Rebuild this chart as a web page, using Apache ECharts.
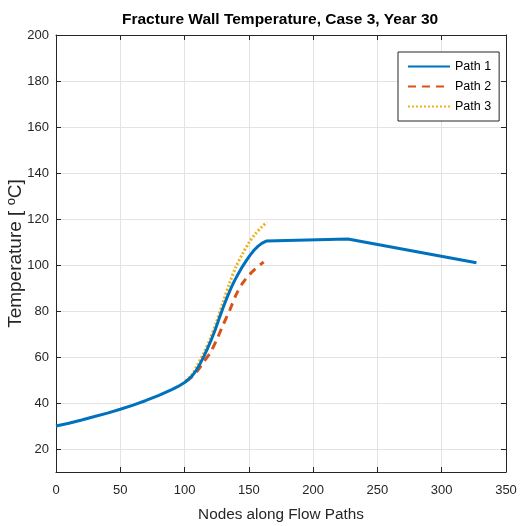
<!DOCTYPE html>
<html>
<head>
<meta charset="utf-8">
<script src="https://cdn.jsdelivr.net/npm/echarts@6/dist/echarts.min.js"></script>
<style>html,body{margin:0;padding:0;background:#fff}#c{width:525px;height:526px}</style>
</head>
<body>
<div id="c"></div>
<script>
const titleText = 'Fracture Wall Temperature, Case 3, Year 30';
const xName = 'Nodes along Flow Paths';
const yName = 'Temperature [ {sup|o}C]';
const seriesNames = ['Path 1', 'Path 2', 'Path 3'];
const xTicks = [0, 50, 100, 150, 200, 250, 300, 350];
const yTicks = [20, 40, 60, 80, 100, 120, 140, 160, 180, 200];

const path1X = [0, 10, 20, 30, 40, 50, 60, 70, 80, 90, 95, 100, 103, 106, 109, 112, 115, 118, 121, 124, 127, 130, 133, 136, 139, 142, 145, 148, 151, 154, 157, 160, 163.5, 165, 227, 327];
const path1Y = [30, 31.2, 32.6, 34.1, 35.6, 37.3, 39.1, 41.1, 43.3, 45.8, 47.2, 48.9, 50.2, 51.9, 54.1, 57, 60.3, 63.9, 67.8, 72.1, 76.9, 81.5, 85.8, 89.8, 93.3, 96.4, 99.3, 101.9, 104.3, 106.4, 108.1, 109.4, 110.4, 109.6, 111.3, 101];

const path2X = [101, 105, 110, 115, 120, 125, 130, 135, 140, 145, 150, 155, 161.5];
const path2Y = [49.5, 51, 54, 58, 61.8, 67.5, 74, 80.2, 87, 92, 95.5, 98.3, 101.3];

const path3X = [101, 106, 110, 115, 120, 125, 130, 135, 140, 145, 150, 155, 160, 164];
const path3Y = [49.5, 52.5, 56.5, 61.8, 68, 75.5, 84, 92.2, 99.2, 104.8, 109.6, 113.5, 116.5, 118.6];

function pairs(xs, ys) { return xs.map((x, i) => [x, ys[i]]); }

const axisColor = '#262626';
const font = 'Arial, "Liberation Sans", sans-serif';

const chart = echarts.init(document.getElementById('c'));
chart.setOption({
  animation: false,
  backgroundColor: '#fff',
  title: {
    text: titleText, left: 117, top: 7,
    textStyle: { fontFamily: font, fontSize: 15.5, fontWeight: 'bold', color: '#000' }
  },
  grid: { left: 56, right: 19, top: 35, bottom: 54, containLabel: false, outerBoundsMode: 'none' },
  legend: {
    orient: 'vertical', left: 398, top: 52,
    padding: [8, 8, 8, 9],
    itemGap: 7, itemWidth: 42, itemHeight: 13,
    borderColor: axisColor, borderWidth: 1, backgroundColor: '#fff', borderRadius: 0,
    itemStyle: { opacity: 0 },
    textStyle: { fontFamily: font, fontSize: 12.5, color: '#000' },
    data: seriesNames
  },
  xAxis: [{
    type: 'value', min: 0, max: 350, interval: 50,
    name: xName, nameLocation: 'middle', nameGap: 35,
    nameTextStyle: { fontFamily: font, fontSize: 15.3, color: axisColor },
    axisLine: { onZero: false, lineStyle: { color: axisColor, width: 1 } },
    axisTick: { inside: true, length: 5, lineStyle: { color: axisColor } },
    axisLabel: { fontFamily: font, fontSize: 13, color: axisColor, margin: 12,
      customValues: xTicks },
    splitLine: { show: true, lineStyle: { color: '#e3e3e3', width: 1 } }
  }, {
    type: 'value', min: 0, max: 350, interval: 50, position: 'top',
    axisLine: { onZero: false, lineStyle: { color: axisColor, width: 1 } },
    axisTick: { inside: true, length: 5, lineStyle: { color: axisColor } },
    axisLabel: { show: false }, splitLine: { show: false }
  }],
  yAxis: [{
    type: 'value', min: 10, max: 200,
    name: yName, nameLocation: 'middle', nameGap: 29, nameMoveOverlap: false,
    nameTextStyle: { fontFamily: font, fontSize: 19, color: axisColor, lineHeight: 22,
      rich: { sup: { fontFamily: font, fontSize: 13, color: axisColor, verticalAlign: 'top', lineHeight: 22, padding: [0, 0, 8, 0] } } },
    axisLine: { show: true, onZero: false, lineStyle: { color: axisColor, width: 1 } },
    axisTick: { show: true, inside: true, length: 5, lineStyle: { color: axisColor }, customValues: yTicks },
    axisLabel: { fontFamily: font, fontSize: 13, color: axisColor, margin: 7, customValues: yTicks },
    splitLine: { show: true, lineStyle: { color: '#e3e3e3', width: 1 } }
  }, {
    type: 'value', min: 10, max: 200, position: 'right',
    axisLine: { show: true, onZero: false, lineStyle: { color: axisColor, width: 1 } },
    axisTick: { show: true, inside: true, length: 5, lineStyle: { color: axisColor }, customValues: yTicks },
    axisLabel: { show: false }, splitLine: { show: false }
  }],
  series: [{
    name: seriesNames[0], type: 'line', data: pairs(path1X, path1Y),
    symbol: 'none', smooth: false, z: 3,
    lineStyle: { color: '#0072BD', width: 3 }, itemStyle: { color: '#0072BD' }
  }, {
    name: seriesNames[1], type: 'line', data: pairs(path2X, path2Y),
    symbol: 'none', smooth: 0.3, z: 2,
    lineStyle: { color: '#D95319', width: 3, type: [8, 6] }, itemStyle: { color: '#D95319' }
  }, {
    name: seriesNames[2], type: 'line', data: pairs(path3X, path3Y),
    symbol: 'none', smooth: 0.3, z: 2,
    lineStyle: { color: '#EDB120', width: 3, type: [2, 2] }, itemStyle: { color: '#EDB120' }
  }]
});
</script>
</body>
</html>
